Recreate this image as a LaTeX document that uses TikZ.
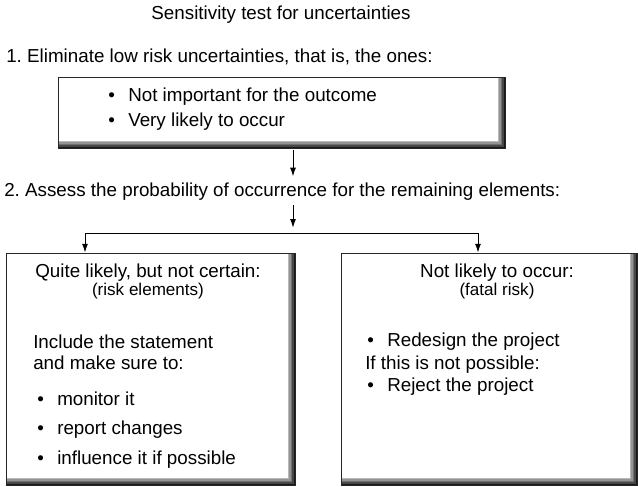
\documentclass[tikz,border=0pt]{standalone}
\usepackage{fontspec}
\setmainfont{Liberation Sans}
\usetikzlibrary{arrows.meta}
\usetikzlibrary{calc}
\frenchspacing

\newcommand{\bul}{\makebox[15pt][l]{\textbullet}}

\tikzset{
  txt/.style={inner sep=0pt, font=\fontsize{14.1}{16}\selectfont},
  subtxt/.style={inner sep=0pt, font=\fontsize{12.8}{15}\selectfont},
  flow/.style={line width=0.75pt, -{Latex[length=6.5pt,width=4.5pt]}},
  bevelbox/.style={rectangle, draw=black!85, line width=0.75pt, fill=white, inner sep=0pt,
    path picture={
      \foreach \d/\g in {0/90,1.5/72,3/56,4.5/42,6/28}
        \fill[black!\g] (path picture bounding box.north west) rectangle
          ([shift={(-\d*0.75pt,\d*0.75pt)}]path picture bounding box.south east);
      \fill[white] ([shift={(0.75pt,-0.75pt)}]path picture bounding box.north west) rectangle
        ([shift={(-7.5*0.75pt,7.5*0.75pt)}]path picture bounding box.south east);
    }},
}

\begin{document}
\begin{tikzpicture}[x=0.75pt, y=-0.75pt]
\useasboundingbox (0,0) rectangle (638,486);

\node[txt] (title) at (281,15) {Sensitivity test for uncertainties};
\node[txt, anchor=west] (step1) at (6,57) {1. Eliminate low risk uncertainties, that is, the ones:};

\node[bevelbox, minimum width=447*0.75pt, minimum height=71*0.75pt] (lowrisk) at (281.5,112.5) {};
\node[txt, anchor=west] (low1) at (108,97) {\bul Not important for the outcome};
\node[txt, anchor=west] (low2) at (108,122) {\bul Very likely to occur};

\node[txt, anchor=west] (step2) at (4,192) {2. Assess the probability of occurrence for the remaining elements:};

\coordinate (split) at (293,233);
\coordinate (lefthook) at (85,233);
\coordinate (righthook) at (478,233);

\node[bevelbox, minimum width=289*0.75pt, minimum height=232*0.75pt] (riskbox) at (150.5,369) {};
\node[bevelbox, minimum width=296*0.75pt, minimum height=232*0.75pt] (fatalbox) at (489,369) {};

\node[txt] (riskhead) at (148,273) {Quite likely, but not certain:};
\node[subtxt] (risksub) at (148,291) {(risk elements)};
\node[txt, anchor=west] (include1) at (33,342) {Include the statement};
\node[txt, anchor=west] (include2) at (33,363) {and make sure to:};
\node[txt, anchor=west] (monitor) at (37,399) {\bul monitor it};
\node[txt, anchor=west] (report) at (37,430) {\bul report changes};
\node[txt, anchor=west] (influence) at (37,460) {\bul influence it if possible};

\node[txt] (fatalhead) at (497,273) {Not likely to occur:};
\node[subtxt] (fatalsub) at (497,291) {(fatal risk)};
\node[txt, anchor=west] (redesign) at (367,342) {\bul Redesign the project};
\node[txt, anchor=west] (ifnot) at (365,365) {If this is not possible:};
\node[txt, anchor=west] (reject) at (367,387) {\bul Reject the project};

\draw[flow, shorten <=1pt, shorten >=5pt] (lowrisk.south -| split) -- (step2.north -| split);
\draw[flow, shorten <=3pt, shorten >=4pt] (step2.south -| split) -- (split);
\draw[line width=0.75pt] (lefthook) -- (righthook);
\draw[flow] (lefthook) -- (lefthook |- riskbox.north);
\draw[flow] (righthook) -- (righthook |- fatalbox.north);
\end{tikzpicture}
\end{document}
